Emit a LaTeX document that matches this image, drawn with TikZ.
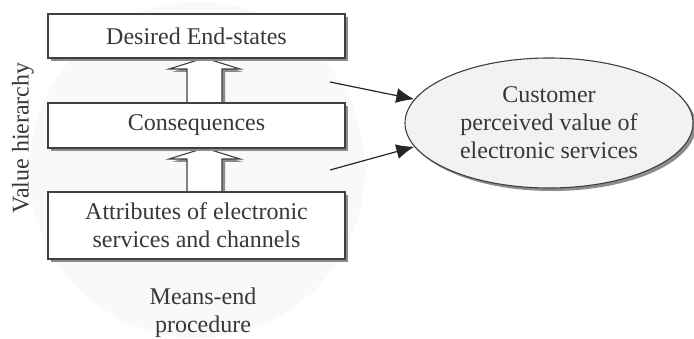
\documentclass[tikz,border=0pt]{standalone}
\usepackage{fontspec}
\setmainfont{Liberation Serif}
\usetikzlibrary{shadows,calc,arrows.meta,shapes.geometric}
\begin{document}
\begin{tikzpicture}[x=1pt,y=-1pt,
  txt/.style={text=black!78,font=\fontsize{24}{28}\selectfont,align=center},
  shad/.style={drop shadow={shadow xshift=3pt,shadow yshift=-3pt,fill=black!45,opacity=1}},
  levelbox/.style={txt,draw=black!75,line width=1.1pt,fill=white,minimum width=297pt,inner sep=0pt,shad},
  hollow/.style={draw=black!75,line width=1.1pt,fill=white,shad},
  conn/.style={draw=black!85,line width=1.2pt,-{Latex[length=18pt,width=15pt]}}]
\useasboundingbox (0,0) rectangle (694,339);
\fill[black!2.5] (197,170) circle[radius=168pt];
% hollow arrows (drawn first, boxes cover the tips)
\coordinate (a1) at (204.5,58);
\coordinate (a2) at (204.5,148);
\path[hollow] (187,103) -- (187,69) -- (169,69) -- (a1) -- (240,69) -- (222,69) -- (222,103);
\path[hollow] (187,192) -- (187,159) -- (169,159) -- (a2) -- (240,159) -- (222,159) -- (222,192);
\node[levelbox,minimum height=44pt] (b1) at (196.5,36) {Desired End-states};
\node[levelbox,minimum height=45pt] (b2) at (196.5,125.5) {Consequences};
\node[levelbox,minimum height=67pt] (b3) at (196.5,225.5) {Attributes of electronic\\services and channels};
\node[txt,rotate=90] (vh) at (23,138) {Value hierarchy};
\node[txt] (me) at (203,313) {Means-end\\procedure};
\node[txt,ellipse,draw=black!75,line width=1.1pt,fill=black!5,minimum width=288pt,minimum height=130pt,inner sep=0pt,shad] (ell) at (549,123) {Customer\\perceived value of\\electronic services};
\coordinate (s1) at (330,82);
\coordinate (s2) at (330,170);
\draw[conn] (s1) -- (ell.170);
\draw[conn] (s2) -- (ell.190);
\end{tikzpicture}
\end{document}
